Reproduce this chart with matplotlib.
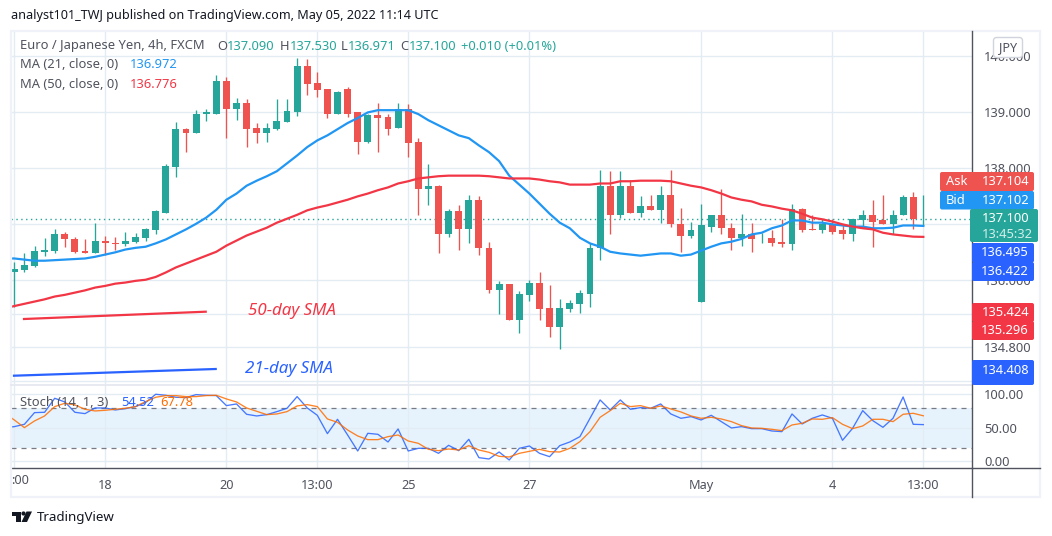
#!/usr/bin/env python3

import matplotlib
matplotlib.use('Agg')
import matplotlib.pyplot as plt
from matplotlib.patches import FancyBboxPatch, Rectangle, Polygon, Circle

W, H = 1052, 536

# candles, 4h bars
opens = [136.15,136.19,136.26,136.51,136.53,136.83,136.74,136.53,136.49,136.71,136.67,136.64,136.69,136.76,136.89,137.21,
         138.02,138.70,138.63,138.97,138.98,139.56,139.06,139.16,138.72,138.63,138.70,138.82,139.00,139.83,139.52,139.42,
         138.98,139.42,139.00,138.47,138.95,138.91,138.73,139.06,138.47,137.64,137.68,136.82,137.23,136.91,137.43,136.58,
         135.83,135.94,135.29,135.74,135.96,135.51,135.17,135.49,135.58,135.76,136.57,137.69,137.16,137.69,137.21,137.32,
         137.26,137.52,137.01,136.80,135.62,136.96,137.17,136.94,136.76,136.83,136.75,136.76,136.69,136.64,137.28,136.91,
         136.89,137.00,136.89,136.83,137.07,137.16,137.07,137.00,137.16,137.48,137.09]
highs = [136.32,136.49,136.62,136.76,136.91,136.87,136.78,136.73,137.03,136.80,136.78,136.87,136.85,136.94,137.25,138.07,
         138.82,138.73,139.04,139.07,139.67,139.63,139.25,139.24,138.81,138.81,139.24,139.24,139.97,139.95,139.72,139.42,
         139.38,139.45,139.00,138.97,139.16,138.98,139.16,139.15,138.54,138.07,137.71,137.28,137.34,137.53,137.50,136.69,
         135.99,135.94,135.80,136.01,136.15,135.92,135.67,135.65,135.83,136.67,137.98,137.95,137.95,137.80,137.50,137.53,
         137.68,137.98,137.30,137.05,137.37,137.17,137.64,137.03,137.19,137.03,136.85,136.89,137.10,137.37,137.30,137.16,
         137.10,137.09,137.01,137.09,137.26,137.43,137.53,137.26,137.53,137.57,137.53]
lows = [135.53,136.14,136.23,136.44,136.49,136.60,136.48,136.49,136.49,136.46,136.55,136.62,136.66,136.71,136.83,137.21,
        137.84,138.29,138.63,138.84,138.97,138.54,138.86,138.38,138.45,138.47,138.68,138.82,138.93,139.31,139.27,138.90,
        138.97,138.91,138.25,138.45,138.30,138.59,138.72,138.21,137.17,137.34,136.48,136.78,136.55,136.67,136.46,135.78,
        135.40,135.29,135.06,135.63,135.29,134.99,134.77,135.44,135.42,135.53,136.37,136.83,137.12,137.21,137.14,137.25,
        137.03,136.96,136.51,136.76,135.62,136.87,136.83,136.55,136.62,136.51,136.66,136.62,136.60,136.55,136.87,136.89,
        136.85,136.82,136.74,136.71,136.96,136.60,137.00,136.82,137.16,136.91,136.97]
closes = [136.21,136.28,136.53,136.55,136.83,136.73,136.51,136.49,136.71,136.66,136.64,136.71,136.78,136.91,137.23,138.04,
          138.70,138.63,138.98,139.00,139.56,139.06,139.16,138.70,138.63,138.72,138.84,139.02,139.83,139.50,139.40,138.98,
          139.36,138.98,138.47,138.95,138.90,138.70,139.06,138.45,137.64,137.68,136.82,137.23,136.91,137.43,136.57,135.83,
          135.94,135.29,135.76,135.96,135.49,135.17,135.51,135.60,135.78,136.58,137.69,137.16,137.69,137.21,137.32,137.26,
          137.52,137.00,136.80,136.89,136.98,137.17,136.93,136.76,136.83,136.74,136.76,136.67,136.64,137.28,136.89,136.89,
          137.01,136.87,136.83,137.09,137.16,137.05,137.00,137.17,137.48,137.09,137.10]

# moving averages and stochastic, these start one bar before the first candle
ma21 = [136.39,136.39,136.37,136.35,136.35,136.36,136.37,136.38,136.39,136.42,136.46,136.50,136.55,136.58,136.60,136.66,
        136.73,136.82,136.91,137.01,137.12,137.26,137.44,137.55,137.69,137.78,137.86,137.95,138.09,138.23,138.38,138.50,
        138.59,138.70,138.81,138.90,139.00,139.04,139.04,139.04,139.04,138.97,138.86,138.77,138.68,138.59,138.54,138.41,
        138.29,138.13,137.87,137.71,137.55,137.37,137.19,137.03,136.93,136.76,136.66,136.60,136.51,136.48,136.46,136.44,
        136.46,136.48,136.48,136.44,136.46,136.53,136.60,136.66,136.69,136.74,136.82,136.85,136.93,136.98,137.07,137.07,
        137.03,137.03,137.00,136.98,136.96,136.96,136.93,136.93,136.94,136.98,136.98,136.972]
ma50 = [135.50,135.54,135.58,135.62,135.66,135.71,135.74,135.78,135.82,135.87,135.90,135.94,135.96,135.99,136.01,136.06,
        136.14,136.23,136.30,136.37,136.44,136.51,136.62,136.71,136.80,136.87,136.94,137.03,137.10,137.17,137.25,137.30,
        137.34,137.39,137.44,137.50,137.55,137.61,137.66,137.73,137.77,137.82,137.84,137.86,137.87,137.87,137.87,137.87,
        137.86,137.84,137.82,137.82,137.82,137.80,137.77,137.75,137.71,137.71,137.71,137.73,137.73,137.77,137.77,137.78,
        137.78,137.78,137.77,137.73,137.69,137.66,137.61,137.55,137.48,137.44,137.41,137.35,137.32,137.28,137.25,137.19,
        137.12,137.09,137.05,137.00,136.96,136.93,136.91,136.85,136.82,136.80,136.78,136.776]
stoch_k = [50.0,51.5,55.0,72.5,73.0,94.0,88.5,73.0,71.0,79.5,79.5,76.5,78.5,81.5,87.5,100.0,
           98.5,95.5,95.0,99.5,98.5,98.0,83.0,85.5,70.0,67.5,69.5,74.0,79.0,96.5,79.5,68.5,
           41.0,62.5,39.0,15.0,41.5,40.0,28.5,48.0,15.0,19.0,19.0,11.5,23.5,15.5,32.5,5.0,
           3.0,13.5,1.5,19.0,22.5,11.5,6.5,23.0,28.5,36.5,64.0,91.5,76.5,91.5,77.5,80.0,
           79.0,85.5,70.5,64.0,66.5,61.5,68.5,59.0,49.5,51.5,48.5,48.5,45.0,44.0,70.5,55.5,
           64.0,69.0,64.0,31.0,49.0,75.5,60.5,50.5,64.0,96.0,55.0,54.52]
stoch_d = [72.0,61.5,50.0,60.0,67.5,81.5,86.5,84.0,77.5,75.0,76.0,77.5,79.0,81.5,89.0,95.5,
           98.0,98.0,96.5,96.5,98.0,98.5,93.0,88.5,79.5,74.5,69.5,70.5,74.0,82.5,84.5,81.5,
           63.0,58.0,46.5,37.5,32.0,32.0,36.5,39.0,30.0,26.5,17.5,15.5,18.0,16.5,23.0,16.5,
           13.0,7.0,6.0,11.5,14.5,17.5,14.0,13.5,19.0,29.0,44.0,65.5,75.5,86.5,81.5,83.0,
           79.0,82.5,78.0,73.5,67.5,64.0,65.5,63.0,59.0,53.0,49.5,49.0,47.5,45.5,54.0,56.5,
           63.0,62.5,65.0,55.0,48.5,52.5,62.5,62.5,59.0,70.0,71.5,67.78]

last_price = 137.10
price_ticks = [140, 139, 138, 137, 136, 135.4, 134.8, 134.2]
# 137, 135.4 and 134.2 sit fully behind the price boxes
price_labels = ['140.000', '139.000', '138.000', '', '136.000', '', '134.800', '']
stoch_ticks = [100, 50, 0]
stoch_labels = ['100.00', '50.00', '0.00']
time_ticks = [0, 9, 21, 30, 39, 51, 68, 81, 90]
time_labels = ['', '18', '20', '13:00', '25', '27', 'May', '4', '13:00']

GREEN = '#26a69a'
RED = '#ef5350'
GRID = '#e3ebf3'
TXT = '#50535e'
plt.rcParams['font.family'] = ['Noto Sans', 'DejaVu Sans']


def px_axes(fig, left, top, right, bottom):
    return fig.add_axes([left / W, 1 - bottom / H, (right - left) / W, (bottom - top) / H])


fig = plt.figure(figsize=(W / 100, H / 100), dpi=100, facecolor='white')
ax = px_axes(fig, 11, 31, 972, 384)
ax2 = px_axes(fig, 11, 385, 972, 468)
xlim = (-0.327, 94.82)

# price pane
for i in range(len(opens)):
    col = GREEN if closes[i] >= opens[i] else RED
    ax.vlines(i, lows[i], highs[i], color=col, lw=0.95, zorder=3)
    ax.bar(i, abs(closes[i] - opens[i]), bottom=min(opens[i], closes[i]), width=0.69, color=col, lw=0, zorder=4)

xs = list(range(-1, len(opens)))
ax.plot(xs, ma21, color='#2196f3', lw=1.6, solid_joinstyle='round', zorder=5)
ax.plot(xs, ma50, color='#f23645', lw=1.6, solid_joinstyle='round', zorder=5)
ax.axhline(last_price, color=GREEN, lw=1, ls=(0, (1, 2.5)), zorder=2)
ax.set_xlim(*xlim)
ax.set_ylim(134.147, 140.455)
ax.set_yticks(price_ticks)
ax.set_yticklabels(price_labels)
ax.set_xticks(time_ticks)
ax.set_xticklabels([])

# stochastic pane
ax2.axhspan(20, 80, color='#e6f3fd', lw=0, zorder=0)
ax2.axhline(80, color='#787b86', lw=0.9, ls=(0, (4, 4)), zorder=2)
ax2.axhline(20, color='#787b86', lw=0.9, ls=(0, (4, 4)), zorder=2)
ax2.plot(xs, stoch_k, color='#2962ff', lw=0.95, alpha=0.85, zorder=4)
ax2.plot(xs, stoch_d, color='#ff6d00', lw=0.95, alpha=0.85, zorder=5)
ax2.set_xlim(*xlim)
ax2.set_ylim(-10.5, 113.9)
ax2.set_yticks(stoch_ticks)
ax2.set_yticklabels(stoch_labels)
ax2.set_xticks(time_ticks)
ax2.set_xticklabels(time_labels)
ax2.text(0.55, -10.5 - 18.5, ':00', ha='center', va='center', fontsize=9.2, color=TXT)
for lab in ax2.get_xticklabels():
    if lab.get_text() == 'May':
        lab.set_fontweight('bold')

for a in (ax, ax2):
    a.yaxis.tick_right()
    a.grid(True, color=GRID, lw=1, zorder=0)
    a.set_axisbelow(True)
    a.tick_params(axis='y', length=0, pad=8.6, labelsize=9.3, labelcolor=TXT)
    a.tick_params(axis='x', length=0, pad=8, labelsize=9.2, labelcolor=TXT)
    for s in a.spines.values():
        s.set_visible(False)
ax2.spines['bottom'].set_visible(True)
ax2.spines['bottom'].set_color(TXT)
ax2.spines['bottom'].set_linewidth(1)

# overlay in pixels for the frame, labels and price boxes
ov = fig.add_axes([0, 0, 1, 1], zorder=10)
ov.set_xlim(0, W)
ov.set_ylim(H, 0)
ov.axis('off')
ov.patch.set_alpha(0)

ov.add_patch(Rectangle((10.5, 30.5), 1029.5, 466.5, fill=False, ec='#eff2f8', lw=1.6))
ov.plot([11, 972], [384.5, 384.5], color='#e3e7ef', lw=1.2)
ov.plot([972, 972], [31, 497], color=TXT, lw=1)
ov.plot([972, 1040], [468, 468], color=TXT, lw=1)

ov.text(11, 16, 'analyst101_TWJ published on TradingView.com, May 05, 2022 11:14 UTC',
        fontsize=9.1, color='#131722', va='center')


def seq(x, y, parts, size=9.3):
    for dx, s, c in parts:
        ov.text(x + dx, y, s, color=c, fontsize=size, va='center')


seq(20, 46, [(0, 'Euro / Japanese Yen, 4h, FXCM', TXT), (197, 'O', TXT), (207, '137.090', GREEN),
             (260, 'H', TXT), (270, '137.530', GREEN), (321, 'L', TXT), (328, '136.971', GREEN),
             (380, 'C', TXT), (389, '137.100', GREEN), (441, '+0.010 (+0.01%)', GREEN)])
seq(20, 65, [(0, 'MA (21, close, 0)', TXT), (110, '136.972', '#2196f3')])
seq(20, 84, [(0, 'MA (50, close, 0)', TXT), (110, '136.776', '#f23645')])
seq(20, 402, [(0, 'Stoch (14, 1, 3)', TXT), (101, '54.52', '#2962ff'), (140, '67.78', '#ff6d00')])

# hand drawn notes
ov.plot([24, 205.7], [319, 311.7], color='#f23645', lw=1.6)
ov.plot([14, 215.7], [375.7, 369], color='#2962ff', lw=1.6)
ov.text(247.5, 311, '50-day SMA', color='#f23645', fontsize=12.2, style='italic', va='center')
ov.text(245, 369, '21-day SMA', color='#2962ff', fontsize=12.2, style='italic', va='center')


def box(x0, y0, x1, y1, col, label=None, value='', vcol='white'):
    ov.add_patch(FancyBboxPatch((x0 + 2, y0 + 2), x1 - x0 - 4, y1 - y0 - 4, boxstyle='round,pad=2,rounding_size=2',
                                fc=col, ec='none', zorder=3))
    if label:
        ov.text(x0 + 6, (y0 + y1) / 2, label, color='white', fontsize=9.3, va='center', zorder=4)
    if value:
        ov.text(1029, (y0 + y1) / 2, value, color=vcol, fontsize=9.3, va='center', ha='right', zorder=4)


box(940, 172, 1034, 191, RED, 'Ask', '137.104')
box(940, 191, 1034, 209.5, '#2196f3', 'Bid', '137.102')
box(970, 209, 1038, 242, GREEN)
ov.text(1029, 218, '137.100', color='white', fontsize=9.3, va='center', ha='right', zorder=4)
ov.text(1033, 234, '13:45:32', color='#d4eeeb', fontsize=9.3, va='center', ha='right', zorder=4)
box(972, 243, 1034, 262.5, '#2962ff', None, '136.495')
box(972, 262, 1034, 281, '#2962ff', None, '136.422')
box(972, 303, 1034, 322, '#f23645', None, '135.424')
box(972, 321, 1034, 340, '#f23645', None, '135.296')
box(972, 360, 1034, 385, '#2962ff', None, '')
ov.text(1029, 370, '134.408', color='white', fontsize=9.3, va='center', ha='right', zorder=4)

# currency button
ov.add_patch(FancyBboxPatch((995, 39), 26, 17, boxstyle='round,pad=1.5,rounding_size=3', fc='white', ec='#d1d4dc', lw=1, zorder=3))
ov.text(1008, 47.5, 'JPY', color=TXT, fontsize=9, ha='center', va='center', zorder=4)

# footer logo
ov.add_patch(Rectangle((12, 511.5), 8.5, 4, fc='#131722', ec='none'))
ov.add_patch(Rectangle((16, 511.5), 4.5, 10.5, fc='#131722', ec='none'))
ov.add_patch(Circle((23.5, 513.5), 2.1, fc='#131722', ec='none'))
ov.add_patch(Polygon([(26.5, 511.5), (32, 511.5), (27, 522), (21.5, 522)], fc='#131722', ec='none'))
ov.text(37, 517, 'TradingView', color='#131722', fontsize=9.6, va='center')

fig.savefig('out.png', dpi=100)
